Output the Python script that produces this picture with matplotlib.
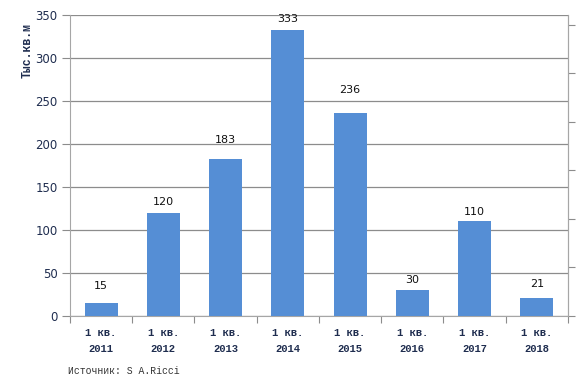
import matplotlib.pyplot as plt

# Data
years = ["2011", "2012", "2013", "2014", "2015", "2016", "2017", "2018"]
values = [15, 120, 183, 333, 236, 30, 110, 21]
labels = ["1 кв.\n" + y for y in years]
# label gap above the bar (points), as placed by hand in the original
label_gap = [12, 7.5, 13.5, 7.5, 16.5, 7, 7, 10]

navy = "#1F2D4F"
bar_color = "#558ED5"

fig = plt.figure(figsize=(5.83, 3.92), dpi=100)
ax = fig.add_axes([0.120, 0.194, 0.854, 0.768])

x = range(len(values))
ax.bar(x, values, width=0.53, color=bar_color, zorder=3)

for xi, v, g in zip(x, values, label_gap):
    ax.annotate(str(v), (xi, v), xytext=(0, g), textcoords="offset points",
                ha="center", va="center", fontsize=8, color="#111111",
                family="DejaVu Sans")

ax.set_xlim(-0.5, len(values) - 0.5)
ax.set_ylim(0, 350)
ax.set_yticks(range(0, 351, 50))
ax.yaxis.grid(True, color="#8C8C8C", linewidth=0.9, zorder=0)
ax.tick_params(axis="y", labelsize=8.5, labelcolor=navy, length=6,
               color="#8C8C8C", pad=3)

# x ticks between categories, labels centered
ax.set_xticks([i - 0.5 for i in range(len(values) + 1)])
ax.set_xticklabels([])
ax.set_xticks(list(x), minor=True)
ax.set_xticklabels(labels, minor=True, family="Liberation Mono",
                   fontweight="bold", fontsize=7.6, color=navy,
                   linespacing=1.75)
ax.tick_params(axis="x", which="major", length=5, color="#8C8C8C")
ax.tick_params(axis="x", which="minor", length=0, pad=9)

ax.spines["top"].set_visible(False)
for s in ["left", "bottom", "right"]:
    ax.spines[s].set_color("#A6A6A6")

fig.text(0.048, 0.872, "Тыс.кв.м", family="Liberation Mono", fontweight="bold",
         fontsize=8.3, color=navy, rotation=90, ha="center", va="center")

# secondary axis with ticks only
ax2 = ax.twinx()
ax2.set_ylim(0, 6.2)
ax2.set_yticks(range(0, 7))
ax2.set_yticklabels([])
ax2.tick_params(axis="y", length=5, color="#8C8C8C")
for s in ["top", "left", "bottom"]:
    ax2.spines[s].set_visible(False)
ax2.spines["right"].set_color("#A6A6A6")

fig.text(0.117, 0.046, "Источник: S A.Ricci", family="Liberation Mono",
         fontsize=7, color="#333333")

fig.savefig("out.png", dpi=100)
